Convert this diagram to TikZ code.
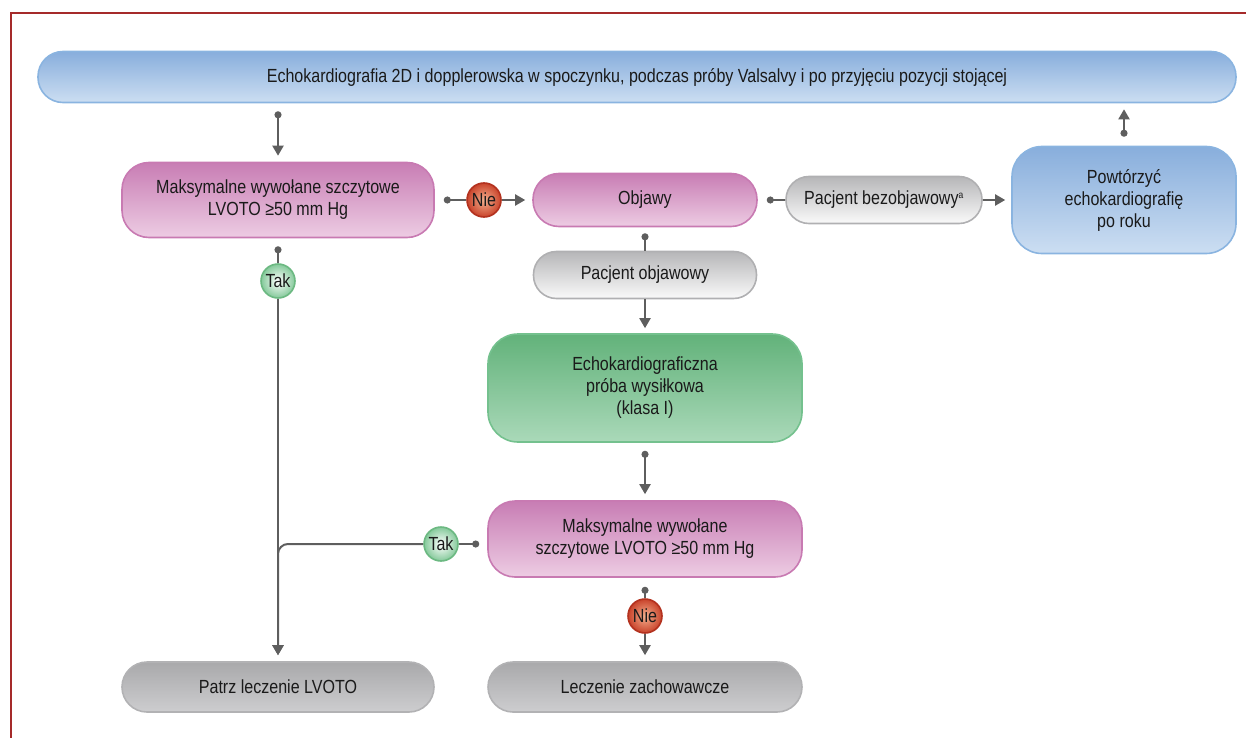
\documentclass[tikz,border=0pt]{standalone}
\usepackage{fontspec}
\setmainfont{Liberation Sans}[FakeStretch=0.845]
\usetikzlibrary{arrows.meta,shapes.geometric}

\definecolor{ink}{HTML}{1A1A1A}
\definecolor{wire}{HTML}{5E5E5E}
\definecolor{framered}{HTML}{A52A2A}
\definecolor{blueedge}{HTML}{8AB4E0}
\definecolor{bluetop}{HTML}{88AEDC}
\definecolor{bluebot}{HTML}{CCDEF2}
\definecolor{pinkedge}{HTML}{C87AB2}
\definecolor{pinktop}{HTML}{C87DB4}
\definecolor{pinkbot}{HTML}{EDCCE3}
\definecolor{greenedge}{HTML}{74C18E}
\definecolor{greentop}{HTML}{62B27A}
\definecolor{greenbot}{HTML}{AAD9B9}
\definecolor{lgedge}{HTML}{B0B0B2}
\definecolor{lgtop}{HTML}{B6B6B8}
\definecolor{lgbot}{HTML}{FAFAFA}
\definecolor{dgedge}{HTML}{B2B2B4}
\definecolor{dgtop}{HTML}{A9A9AB}
\definecolor{dgbot}{HTML}{CDCDCF}
\definecolor{yesedge}{HTML}{6CB982}
\definecolor{yesout}{HTML}{84C99A}
\definecolor{noedge}{HTML}{B3321F}
\definecolor{noin}{HTML}{F3B08E}
\definecolor{noout}{HTML}{C9432B}

\tikzset{
  box/.style={rectangle, inner sep=0pt, align=center, text=ink, line width=1.6pt,
    font=\fontsize{19}{22}\selectfont},
  bluebox/.style={box, draw=blueedge, top color=bluetop, bottom color=bluebot},
  pinkbox/.style={box, draw=pinkedge, top color=pinktop, bottom color=pinkbot},
  greenbox/.style={box, draw=greenedge, top color=greentop, bottom color=greenbot},
  lightgray/.style={box, draw=lgedge, top color=lgtop, bottom color=lgbot},
  darkgray/.style={box, draw=dgedge, top color=dgtop, bottom color=dgbot},
  badge/.style={circle, minimum size=34pt, inner sep=0pt, text=ink, line width=1.6pt,
    font=\fontsize{19}{22}\selectfont},
  yesbadge/.style={badge, draw=yesedge, inner color=white, outer color=yesout},
  nobadge/.style={badge, draw=noedge, inner color=noin, outer color=noout},
  conn/.style={draw=wire, line width=2pt},
  tip/.style={-{Triangle[length=10pt,width=11pt]}},
  dotstart/.style={{Circle[length=7pt]}-},
  dottip/.style={{Circle[length=7pt]}-{Triangle[length=10pt,width=11pt]}},
}
\begin{document}
\begin{tikzpicture}[x=1pt,y=-1pt]
% canvas and outer frame
\useasboundingbox (0,0) rectangle (1246,738);
\draw[framered, line width=2pt] (1246,13) -- (11,13) -- (11,738);

% boxes
\node[bluebox, minimum width=1198pt, minimum height=51pt, rounded corners=25pt]
  (echo) at (637,77) {Echokardiografia 2D i dopplerowska w spoczynku, podczas próby Valsalvy i po przyjęciu pozycji stojącej};
\node[pinkbox, minimum width=312pt, minimum height=75pt, rounded corners=27pt]
  (peak1) at (278,200) {Maksymalne wywołane szczytowe\\LVOTO ≥50 mm Hg};
\node[pinkbox, minimum width=224pt, minimum height=53pt, rounded corners=26pt]
  (sympt) at (645,200) {Objawy};
\node[lightgray, minimum width=196pt, minimum height=47pt, rounded corners=23pt]
  (asym) at (884,200) {Pacjent bezobjawowy\textsuperscript{\fontsize{10}{10}\selectfont a}};
\node[bluebox, minimum width=224pt, minimum height=107pt, rounded corners=30pt]
  (repeat) at (1124,200) {Powtórzyć\\echokardiografię\\po roku};
\node[lightgray, minimum width=223pt, minimum height=47pt, rounded corners=23pt]
  (symp) at (645,275) {Pacjent objawowy};
\node[greenbox, minimum width=314pt, minimum height=108pt, rounded corners=30pt]
  (stress) at (645,388) {Echokardiograficzna\\próba wysiłkowa\\(klasa I)};
\node[pinkbox, minimum width=314pt, minimum height=76pt, rounded corners=27pt]
  (peak2) at (645,539) {Maksymalne wywołane\\szczytowe LVOTO ≥50 mm Hg};
\node[darkgray, minimum width=312pt, minimum height=50pt, rounded corners=25pt]
  (lvoto) at (278,687) {Patrz leczenie LVOTO};
\node[darkgray, minimum width=314pt, minimum height=50pt, rounded corners=25pt]
  (conserv) at (645,687) {Leczenie zachowawcze};

% yes/no badges
\node[yesbadge] (yes1) at (278,281) {Tak};
\node[nobadge]  (no1)  at (484,200) {Nie};
\node[yesbadge] (yes2) at (441,544) {Tak};
\node[nobadge]  (no2)  at (645,616) {Nie};

% connectors
\draw[conn, dottip, shorten <=8pt, shorten >=6pt] (echo.south -| peak1.north) -- (peak1.north);
\draw[conn, dotstart, shorten <=8pt] (peak1.south) -- (yes1.north);
\draw[conn, tip, shorten >=6pt] (yes1.south) -- (lvoto.north);
\draw[conn, dotstart, shorten <=9pt] (peak1.east) -- (no1.west);
\draw[conn, tip, shorten >=7pt] (no1.east) -- (sympt.west);
\draw[conn, dotstart, shorten <=9pt] (sympt.east) -- (asym.west);
\draw[conn, tip, shorten >=6pt] (asym.east) -- (repeat.west);
\draw[conn, dottip, shorten <=9pt, shorten >=6pt] (repeat.north) -- (repeat.north |- echo.south);
\draw[conn, dotstart, shorten <=6pt] (sympt.south) -- (symp.north);
\draw[conn, tip, shorten >=5pt] (symp.south) -- (stress.north);
\draw[conn, dottip, shorten <=8pt, shorten >=6pt] (stress.south) -- (peak2.north);
\draw[conn, dotstart, shorten <=8pt] (peak2.west |- yes2) -- (yes2.east);
\draw[conn, tip, rounded corners=10pt, shorten >=6pt] (yes2.west) -| (lvoto.north);
\draw[conn, dotstart, shorten <=9pt] (peak2.south) -- (no2.north);
\draw[conn, tip, shorten >=6pt] (no2.south) -- (conserv.north);
\end{tikzpicture}
\end{document}
